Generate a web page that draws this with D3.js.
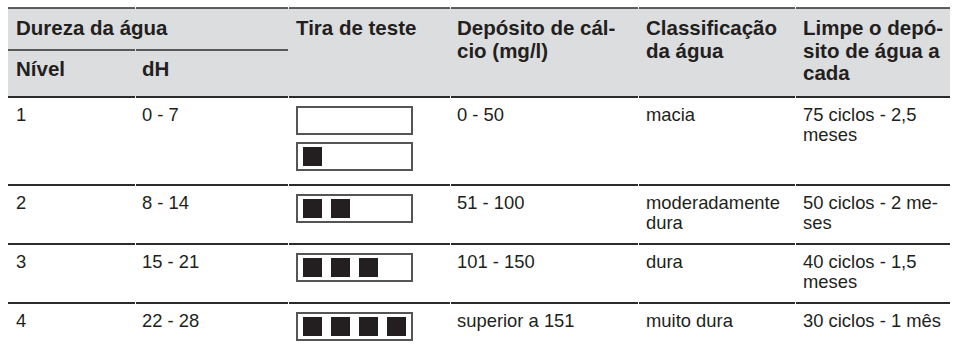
<!DOCTYPE html>
<html>
<head>
<meta charset="utf-8">
<script src="https://cdn.jsdelivr.net/npm/d3@7"></script>
<style>
  html, body { margin: 0; padding: 0; background: #fff; }
  svg { display: block; }
  text { font-family: "Liberation Sans", Arial, sans-serif; fill: #231f20; }
</style>
</head>
<body>
<svg id="chart" width="955" height="352"></svg>
<script>
// ---- data ----
const groupHeader = "Dureza da água";
const subHeaders = ["Nível", "dH"];
const columnHeaders = [
  ["Tira de teste"],
  ["Depósito de cál-", "cio (mg/l)"],
  ["Classificação", "da água"],
  ["Limpe o depó-", "sito de água a", "cada"]
];
const levels = ["1", "2", "3", "4"];
const dhRanges = ["0 - 7", "8 - 14", "15 - 21", "22 - 28"];
const stripSquares = [[0, 1], [2], [3], [4]];
const calciumDeposit = ["0 - 50", "51 - 100", "101 - 150", "superior a 151"];
const classification = [["macia"], ["moderadamente", "dura"], ["dura"], ["muito dura"]];
const cleaningInterval = [
  ["75 ciclos - 2,5", "meses"],
  ["50 ciclos - 2 me-", "ses"],
  ["40 ciclos - 1,5", "meses"],
  ["30 ciclos - 1 mês"]
];

// ---- layout ----
const svg = d3.select("#chart");
const colEdges = [8, 135, 288, 450, 638, 795, 950];
const col = d3.scaleOrdinal().domain(d3.range(6)).range(colEdges.slice(0, 6));
const colEnd = i => colEdges[i + 1];
const padX = 8;

const tableTop = 8, subLineY = 50, headBottom = 97;
const rowTops = [97, 185, 244, 303];
const row = d3.scaleOrdinal().domain(d3.range(4)).range(rowTops);

const lineColor = "#2b2b2b";
const headFont = 20.5, bodyFont = 18.4;
const headLH = 22.5, bodyLH = 20;

// header background
svg.append("rect")
  .attr("x", colEdges[0]).attr("y", tableTop)
  .attr("width", colEdges[6] - colEdges[0]).attr("height", headBottom - tableTop)
  .attr("fill", "#dcdddf");

// horizontal rules drawn per column with tiny gaps
function hRule(y, c0, c1, w) {
  d3.range(c0, c1).forEach(i => {
    svg.append("line")
      .attr("x1", col(i) + (i === 0 ? 0 : 1)).attr("x2", colEnd(i))
      .attr("y1", y).attr("y2", y)
      .attr("stroke", lineColor).attr("stroke-width", w);
  });
}
hRule(tableTop, 0, 6, 1.6);
hRule(subLineY, 0, 2, 1.6);
hRule(headBottom, 0, 6, 2.2);
rowTops.slice(1).forEach(y => hRule(y, 0, 6, 2.2));

// header text
function multiline(x, y0, lines, size, weight, lh) {
  const t = svg.append("text").attr("x", x).attr("y", y0)
    .attr("font-size", size).attr("font-weight", weight);
  lines.forEach((s, k) => {
    t.append("tspan").attr("x", x).attr("y", y0 + k * lh).text(s);
  });
}
const headBase = 35;
multiline(col(0) + padX, headBase, [groupHeader], headFont, "bold", headLH);
subHeaders.forEach((s, i) => multiline(col(i) + (i === 0 ? padX : 7), 76, [s], headFont, "bold", headLH));
columnHeaders.forEach((lines, i) => multiline(col(i + 2) + padX - (i === 1 ? 1 : 0), headBase, lines, headFont, "bold", headLH));

// body text
const bodyBase = 24;
levels.forEach((v, r) => {
  const y = row(r) + bodyBase;
  multiline(col(0) + padX, y, [v], bodyFont, "normal", bodyLH);
  multiline(col(1) + 7, y, [dhRanges[r]], bodyFont, "normal", bodyLH);
  multiline(col(3) + padX - 1, y, [calciumDeposit[r]], bodyFont, "normal", bodyLH);
  multiline(col(4) + padX, y, classification[r], bodyFont, "normal", bodyLH);
  multiline(col(5) + padX, y, cleaningInterval[r], bodyFont, "normal", bodyLH);
});

// test strips
const stripW = 115, stripH = 27, stripGap = 9, stripOffY = 10;
const sq = d3.scaleLinear().domain([0, 1]).range([6, 34]); // square index -> x offset
const sqSize = 19;
stripSquares.forEach((counts, r) => {
  counts.forEach((n, k) => {
    const x = col(2) + padX + 1;
    const y = row(r) + stripOffY + k * (stripH + stripGap);
    svg.append("rect")
      .attr("x", x).attr("y", y).attr("width", stripW).attr("height", stripH)
      .attr("fill", "#fff").attr("stroke", "#555").attr("stroke-width", 2);
    svg.selectAll(null).data(d3.range(n)).enter().append("rect")
      .attr("x", j => x + sq(j))
      .attr("y", y + (stripH - sqSize) / 2)
      .attr("width", sqSize).attr("height", sqSize)
      .attr("fill", "#231f20");
  });
});
</script>
</body>
</html>
